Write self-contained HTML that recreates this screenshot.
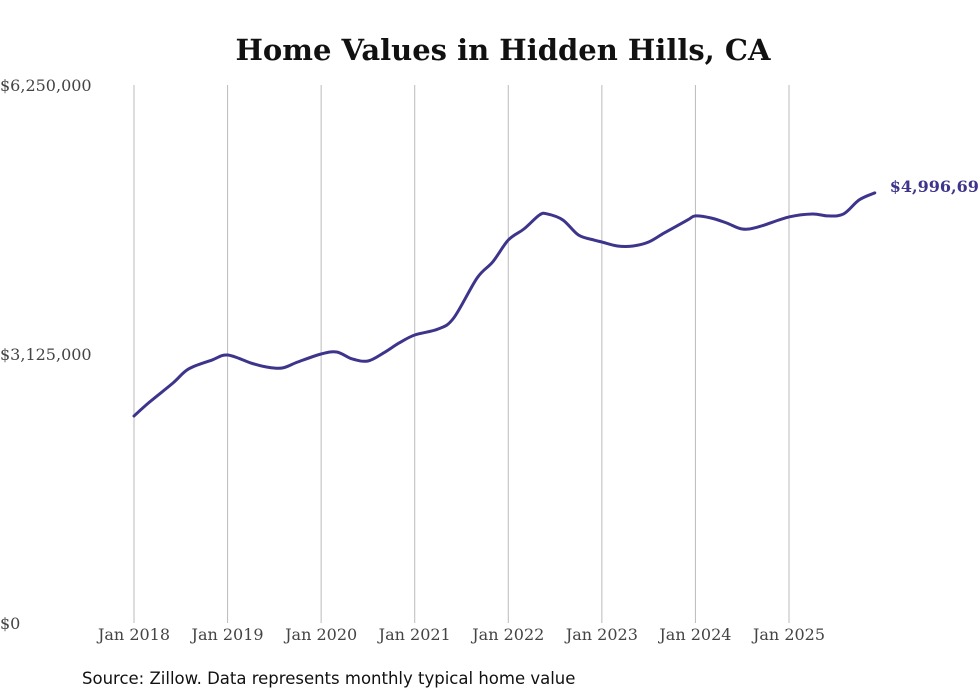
<!DOCTYPE html>
<html><head><meta charset="utf-8"><style>
body{margin:0;background:#fff;}
svg{display:block;}
</style></head><body>
<svg id="chart" width="980" height="699" viewBox="0 0 980 699">
<text x="503" y="60" text-anchor="middle" font-family="DejaVu Serif, serif" font-weight="bold" font-size="29" fill="#111">Home Values in Hidden Hills, CA</text>
<g id="grid"></g><g id="yt"></g><g id="xt"></g><g id="line"></g>
<text x="82" y="684" font-family="DejaVu Sans, sans-serif" font-size="16.5" fill="#111">Source: Zillow. Data represents monthly typical home value</text>
</svg>
<script>
const months=[0,2,5,7,10,12,15,17,19,21,24,26,28,30,32,34,36,39,41,44,46,48,50,52,53,55,57,59,60,62,64,66,68,71,72,74,76,78,80,84,87,89,91,93,95];
const values=[2.405,2.567,2.788,2.951,3.055,3.113,3.020,2.974,2.962,3.032,3.125,3.148,3.067,3.044,3.137,3.253,3.346,3.415,3.543,4.008,4.194,4.449,4.577,4.740,4.752,4.682,4.507,4.449,4.426,4.380,4.380,4.426,4.531,4.682,4.729,4.705,4.647,4.577,4.600,4.717,4.752,4.729,4.752,4.915,4.996697];
const xTicks=["Jan 2018","Jan 2019","Jan 2020","Jan 2021","Jan 2022","Jan 2023","Jan 2024","Jan 2025"];
const yTicks=[0,3.125,6.25];
const yTickLabels=["$0","$3,125,000","$6,250,000"];
const lastLabel="$4,996,697";
const NS="http://www.w3.org/2000/svg";
const X=m=>134+m*(655/84);
const Y=v=>623-v/6.25*538;
function mk(t,a,p){const e=document.createElementNS(NS,t);for(const k in a)e.setAttribute(k,a[k]);document.getElementById(p).appendChild(e);return e;}
xTicks.forEach((t,i)=>{const x=X(i*12);
 const l=mk('line',{x1:x,x2:x,y1:85,y2:623,stroke:'#bbb','stroke-width':1},'grid');
 
 
 const tx=mk('text',{x:x,y:640,'text-anchor':'middle','font-family':'DejaVu Serif, serif','font-size':16,fill:'#444'},'xt');tx.textContent=t;
 
 
});
yTicks.forEach((v,i)=>{const tx=mk('text',{x:0,y:Y(v)+6,'font-family':'DejaVu Serif, serif','font-size':16,fill:'#444'},'yt');tx.textContent=yTickLabels[i];
 
 
});
const pts=months.map((m,i)=>[X(m),Y(values[i])]);
let d='M'+pts[0][0]+','+pts[0][1];
for(let i=0;i<pts.length-1;i++){const p0=pts[Math.max(0,i-1)],p1=pts[i],p2=pts[i+1],p3=pts[Math.min(pts.length-1,i+2)];
 d+=' C'+(p1[0]+(p2[0]-p0[0])/6)+','+(p1[1]+(p2[1]-p0[1])/6)+' '+(p2[0]-(p3[0]-p1[0])/6)+','+(p2[1]-(p3[1]-p1[1])/6)+' '+p2[0]+','+p2[1];}
const path=mk('path',{d:d,fill:'none',stroke:'#3d348b','stroke-width':3,'stroke-linejoin':'round','stroke-linecap':'round'},'line');


const lp=pts[pts.length-1];
const lt=mk('text',{x:lp[0]+15,y:lp[1]-1,'font-family':'DejaVu Serif, serif','font-size':16,'font-weight':'bold',fill:'#3d348b'},'line');lt.textContent=lastLabel;


</script>
</body></html>
